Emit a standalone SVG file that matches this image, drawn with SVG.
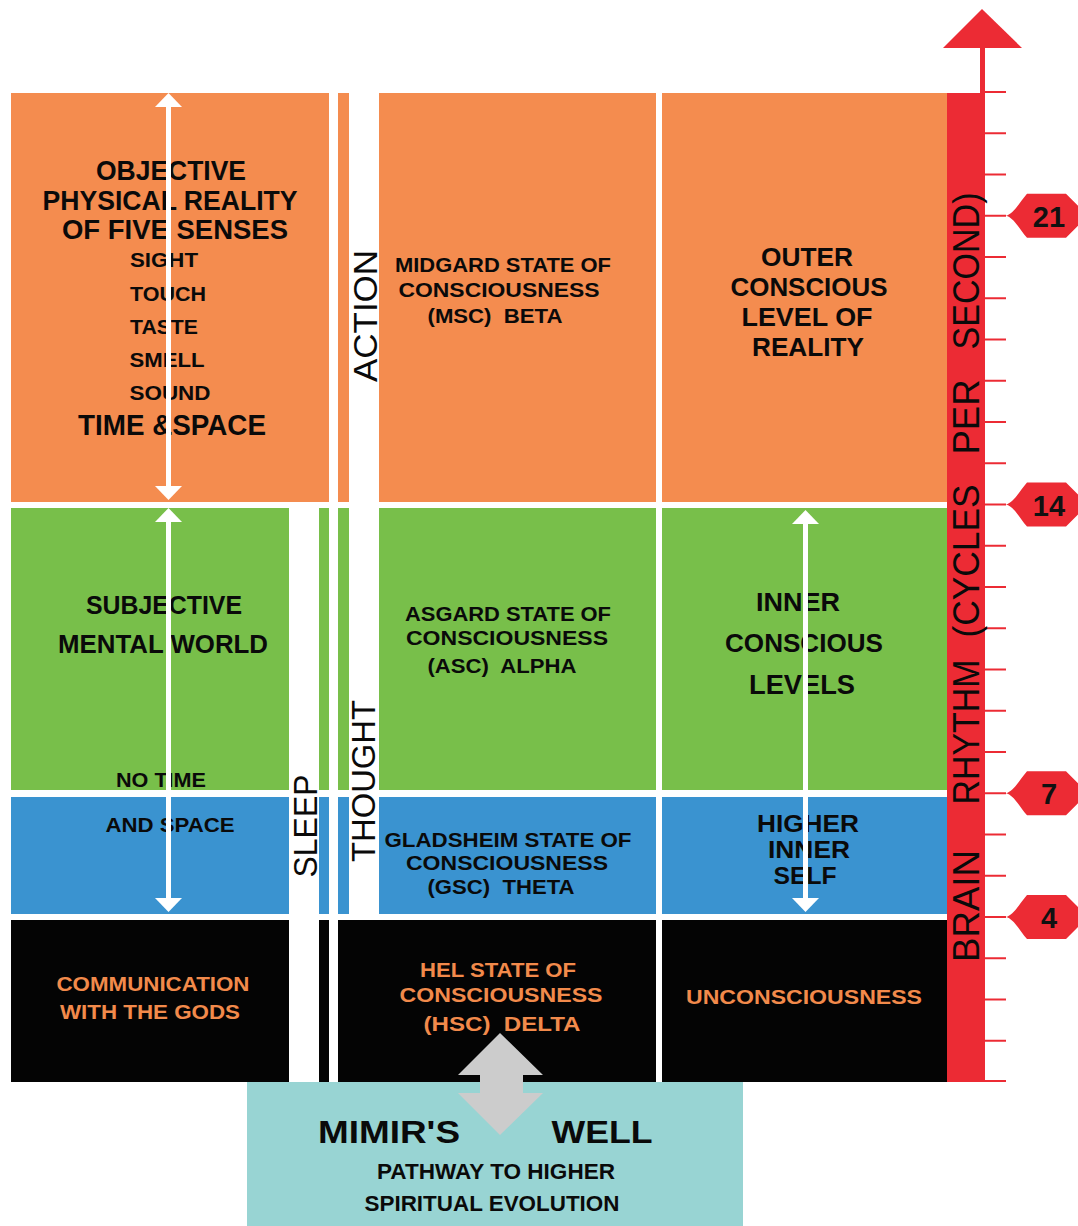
<svg xmlns="http://www.w3.org/2000/svg" width="1078" height="1226" viewBox="0 0 1078 1226">
<style>
.t{font-family:"Liberation Sans",Arial,sans-serif;font-weight:bold;fill:#0a0a0a;text-anchor:middle}
.o{fill:#f28a4b}
.v{font-family:"Liberation Sans",Arial,sans-serif;font-weight:normal;fill:#0a0a0a;text-anchor:middle}
.num{font-family:"Liberation Sans",Arial,sans-serif;font-weight:bold;fill:#111;text-anchor:middle;font-size:29px}
.or{fill:#f48c4f}.gr{fill:#78bf4a}.bl{fill:#3a93d0}.bk{fill:#040404}
.wa{fill:#ffffff}
.tick{stroke:#ec2b34;stroke-width:2}
.badge{fill:#ec2b34}
</style>
<rect width="1078" height="1226" fill="#ffffff"/>

<!-- left column -->
<g id="left-orange">
<rect class="or" x="11" y="93" width="318" height="409"/>
<text class="t" font-size="27" x="171" y="180" textLength="150" lengthAdjust="spacingAndGlyphs">OBJECTIVE</text>
<text class="t" font-size="27" x="170" y="210" textLength="255" lengthAdjust="spacingAndGlyphs">PHYSICAL REALITY</text>
<text class="t" font-size="27" x="175" y="239" textLength="226" lengthAdjust="spacingAndGlyphs">OF FIVE SENSES</text>
<text class="t" font-size="21" x="164" y="267" textLength="68" lengthAdjust="spacingAndGlyphs">SIGHT</text>
<text class="t" font-size="21" x="168" y="301" textLength="76" lengthAdjust="spacingAndGlyphs">TOUCH</text>
<text class="t" font-size="21" x="164" y="334" textLength="68" lengthAdjust="spacingAndGlyphs">TASTE</text>
<text class="t" font-size="21" x="167" y="367" textLength="75" lengthAdjust="spacingAndGlyphs">SMELL</text>
<text class="t" font-size="21" x="170" y="400" textLength="81" lengthAdjust="spacingAndGlyphs">SOUND</text>
<text class="t" font-size="29" x="172" y="435" textLength="188" lengthAdjust="spacingAndGlyphs">TIME &amp;SPACE</text>
</g>
<g id="left-green">
<rect class="gr" x="11" y="508" width="278" height="282"/>
<rect class="gr" x="319" y="508" width="10" height="282"/>
<text class="t" font-size="25" x="164" y="614" textLength="156" lengthAdjust="spacingAndGlyphs">SUBJECTIVE</text>
<text class="t" font-size="25" x="163" y="653" textLength="210" lengthAdjust="spacingAndGlyphs">MENTAL WORLD</text>
<text class="t" font-size="20" x="161" y="787" textLength="90" lengthAdjust="spacingAndGlyphs">NO TIME</text>
</g>
<g id="left-blue">
<rect class="bl" x="11" y="797" width="278" height="117"/>
<rect class="bl" x="319" y="797" width="10" height="117"/>
<text class="t" font-size="21" x="170" y="832" textLength="129" lengthAdjust="spacingAndGlyphs">AND SPACE</text>
</g>
<g id="left-black">
<rect class="bk" x="11" y="920" width="278" height="162"/>
<rect class="bk" x="319" y="920" width="10" height="162"/>
<text class="t o" font-size="21" x="153" y="991" textLength="193" lengthAdjust="spacingAndGlyphs">COMMUNICATION</text>
<text class="t o" font-size="21" x="150" y="1019" textLength="180" lengthAdjust="spacingAndGlyphs">WITH THE GODS</text>
</g>

<!-- thin strip -->
<g id="strip">
<rect class="or" x="338" y="93" width="11" height="409"/>
<rect class="gr" x="338" y="508" width="11" height="282"/>
<rect class="bl" x="338" y="797" width="11" height="117"/>
</g>

<!-- middle column -->
<g id="midgard">
<rect class="or" x="379" y="93" width="277" height="409"/>
<text class="t" font-size="21" x="503" y="272" textLength="216" lengthAdjust="spacingAndGlyphs">MIDGARD STATE OF</text>
<text class="t" font-size="21" x="499" y="297" textLength="201" lengthAdjust="spacingAndGlyphs">CONSCIOUSNESS</text>
<text class="t" font-size="21" x="495" y="323" textLength="135" lengthAdjust="spacingAndGlyphs">(MSC)&#160; BETA</text>
</g>
<g id="asgard">
<rect class="gr" x="379" y="508" width="277" height="282"/>
<text class="t" font-size="21" x="508" y="621" textLength="206" lengthAdjust="spacingAndGlyphs">ASGARD STATE OF</text>
<text class="t" font-size="21" x="507" y="645" textLength="202" lengthAdjust="spacingAndGlyphs">CONSCIOUSNESS</text>
<text class="t" font-size="21" x="502" y="673" textLength="149" lengthAdjust="spacingAndGlyphs">(ASC)&#160; ALPHA</text>
</g>
<g id="gladsheim">
<rect class="bl" x="379" y="797" width="277" height="117"/>
<text class="t" font-size="21" x="508" y="847" textLength="247" lengthAdjust="spacingAndGlyphs">GLADSHEIM STATE OF</text>
<text class="t" font-size="21" x="507" y="870" textLength="202" lengthAdjust="spacingAndGlyphs">CONSCIOUSNESS</text>
<text class="t" font-size="21" x="501" y="894" textLength="147" lengthAdjust="spacingAndGlyphs">(GSC)&#160; THETA</text>
</g>
<g id="hel">
<rect class="bk" x="338" y="920" width="318" height="162"/>
<text class="t o" font-size="21" x="498" y="977" textLength="156" lengthAdjust="spacingAndGlyphs">HEL STATE OF</text>
<text class="t o" font-size="21" x="501" y="1002" textLength="203" lengthAdjust="spacingAndGlyphs">CONSCIOUSNESS</text>
<text class="t o" font-size="21" x="502" y="1031" textLength="157" lengthAdjust="spacingAndGlyphs">(HSC)&#160; DELTA</text>
</g>

<!-- right column -->
<g id="outer">
<rect class="or" x="662" y="93" width="286" height="409"/>
<text class="t" font-size="26" x="807" y="266" textLength="92" lengthAdjust="spacingAndGlyphs">OUTER</text>
<text class="t" font-size="26" x="809" y="296" textLength="157" lengthAdjust="spacingAndGlyphs">CONSCIOUS</text>
<text class="t" font-size="26" x="807" y="326" textLength="131" lengthAdjust="spacingAndGlyphs">LEVEL OF</text>
<text class="t" font-size="26" x="808" y="356" textLength="112" lengthAdjust="spacingAndGlyphs">REALITY</text>
</g>
<g id="inner">
<rect class="gr" x="662" y="508" width="286" height="282"/>
<text class="t" font-size="26" x="798" y="611" textLength="84" lengthAdjust="spacingAndGlyphs">INNER</text>
<text class="t" font-size="26" x="804" y="652" textLength="158" lengthAdjust="spacingAndGlyphs">CONSCIOUS</text>
<text class="t" font-size="28" x="802" y="694" textLength="106" lengthAdjust="spacingAndGlyphs">LEVELS</text>
</g>
<g id="higher">
<rect class="bl" x="662" y="797" width="286" height="117"/>
<text class="t" font-size="24" x="808" y="832" textLength="102" lengthAdjust="spacingAndGlyphs">HIGHER</text>
<text class="t" font-size="24" x="809" y="858" textLength="82" lengthAdjust="spacingAndGlyphs">INNER</text>
<text class="t" font-size="24" x="805" y="884" textLength="63" lengthAdjust="spacingAndGlyphs">SELF</text>
</g>
<g id="unconscious">
<rect class="bk" x="662" y="920" width="286" height="162"/>
<text class="t o" font-size="20" x="804" y="1004" textLength="236" lengthAdjust="spacingAndGlyphs">UNCONSCIOUSNESS</text>
</g>

<!-- vertical labels -->
<g id="labels">
<text class="v" font-size="33" transform="translate(377,316) rotate(-90)" textLength="132" lengthAdjust="spacingAndGlyphs">ACTION</text>
<text class="v" font-size="33" transform="translate(375,781) rotate(-90)" textLength="162" lengthAdjust="spacingAndGlyphs">THOUGHT</text>
<text class="v" font-size="33" transform="translate(317,826) rotate(-90)" textLength="103" lengthAdjust="spacingAndGlyphs">SLEEP</text>
</g>

<!-- Mimir's well -->
<g id="mimir">
<rect x="247" y="1082" width="496" height="144" fill="#98d4d3"/>
<text class="t" font-size="31" x="389" y="1143" textLength="142" lengthAdjust="spacingAndGlyphs">MIMIR'S</text>
<text class="t" font-size="31" x="602" y="1143" textLength="101" lengthAdjust="spacingAndGlyphs">WELL</text>
<text class="t" font-size="22" x="496" y="1179" textLength="238" lengthAdjust="spacingAndGlyphs">PATHWAY TO HIGHER</text>
<text class="t" font-size="22" x="492" y="1211" textLength="255" lengthAdjust="spacingAndGlyphs">SPIRITUAL EVOLUTION</text>
</g>

<!-- brain rhythm axis -->
<g id="axis">
<rect x="947" y="93" width="38" height="989" fill="#ec2b34"/>
<rect x="980" y="46" width="5" height="50" fill="#ec2b34"/>
<polygon points="982,9 1022,48 943,48" fill="#ec2b34"/>
<g class="tick">
<line x1="985" y1="92" x2="1006" y2="92"/>
<line x1="985" y1="133.25" x2="1006" y2="133.25"/>
<line x1="985" y1="174.5" x2="1006" y2="174.5"/>
<line x1="985" y1="215.75" x2="1006" y2="215.75"/>
<line x1="985" y1="257" x2="1006" y2="257"/>
<line x1="985" y1="298.25" x2="1006" y2="298.25"/>
<line x1="985" y1="339.5" x2="1006" y2="339.5"/>
<line x1="985" y1="380.75" x2="1006" y2="380.75"/>
<line x1="985" y1="422" x2="1006" y2="422"/>
<line x1="985" y1="463.25" x2="1006" y2="463.25"/>
<line x1="985" y1="504.5" x2="1006" y2="504.5"/>
<line x1="985" y1="545.75" x2="1006" y2="545.75"/>
<line x1="985" y1="587" x2="1006" y2="587"/>
<line x1="985" y1="628.25" x2="1006" y2="628.25"/>
<line x1="985" y1="669.5" x2="1006" y2="669.5"/>
<line x1="985" y1="710.75" x2="1006" y2="710.75"/>
<line x1="985" y1="752" x2="1006" y2="752"/>
<line x1="985" y1="793.25" x2="1006" y2="793.25"/>
<line x1="985" y1="834.5" x2="1006" y2="834.5"/>
<line x1="985" y1="875.75" x2="1006" y2="875.75"/>
<line x1="985" y1="917" x2="1006" y2="917"/>
<line x1="985" y1="958.25" x2="1006" y2="958.25"/>
<line x1="985" y1="999.5" x2="1006" y2="999.5"/>
<line x1="985" y1="1040.75" x2="1006" y2="1040.75"/>
<line x1="985" y1="1081" x2="1006" y2="1081"/>
</g>
<text class="v" font-size="36" transform="translate(979,906) rotate(-90)" textLength="112" lengthAdjust="spacingAndGlyphs">BRAIN</text>
<text class="v" font-size="36" transform="translate(979,732) rotate(-90)" textLength="145" lengthAdjust="spacingAndGlyphs">RHYTHM</text>
<text class="v" font-size="36" transform="translate(979,561) rotate(-90)" textLength="153" lengthAdjust="spacingAndGlyphs">(CYCLES</text>
<text class="v" font-size="36" transform="translate(979,417) rotate(-90)" textLength="75" lengthAdjust="spacingAndGlyphs">PER</text>
<text class="v" font-size="36" transform="translate(979,271) rotate(-90)" textLength="157" lengthAdjust="spacingAndGlyphs">SECOND)</text>
</g>
<g id="badges">
<path class="badge" d="M1006,215.75 C1014,213.75 1020,201.75 1027,193.75 L1066,193.75 L1078,205.75 L1078,225.75 L1066,237.75 L1027,237.75 C1020,229.75 1014,217.75 1006,215.75 Z"/>
<text class="num" x="1049" y="226.5">21</text>
<path class="badge" d="M1006,504.5 C1014,502.5 1020,490.5 1027,482.5 L1066,482.5 L1078,494.5 L1078,514.5 L1066,526.5 L1027,526.5 C1020,518.5 1014,506.5 1006,504.5 Z"/>
<text class="num" x="1049" y="515.5">14</text>
<path class="badge" d="M1006,793.25 C1014,791.25 1020,779.25 1027,771.25 L1066,771.25 L1078,783.25 L1078,803.25 L1066,815.25 L1027,815.25 C1020,807.25 1014,795.25 1006,793.25 Z"/>
<text class="num" x="1049" y="804">7</text>
<path class="badge" d="M1006,917 C1014,915 1020,903 1027,895 L1066,895 L1078,907 L1078,927 L1066,939 L1027,939 C1020,931 1014,919 1006,917 Z"/>
<text class="num" x="1049" y="928">4</text>
</g>

<!-- connectors: double-headed arrows -->
<g id="connectors">
<g class="wa">
<rect x="166" y="105" width="5" height="384"/>
<polygon points="168.5,93 182,107 155,107"/>
<polygon points="168.5,500 182,486 155,486"/>
<rect x="166" y="520" width="5" height="380"/>
<polygon points="168.5,508 182,522 155,522"/>
<polygon points="168.5,912 182,898 155,898"/>
<rect x="803" y="522" width="5" height="378"/>
<polygon points="805.5,510 819,524 792,524"/>
<polygon points="805.5,912 819,898 792,898"/>
</g>
<polygon points="500,1033 543,1075 523,1075 523,1093 543,1093 500,1135 458,1093 480,1093 480,1075 458,1075" fill="#cccccc"/>
</g>
</svg>
